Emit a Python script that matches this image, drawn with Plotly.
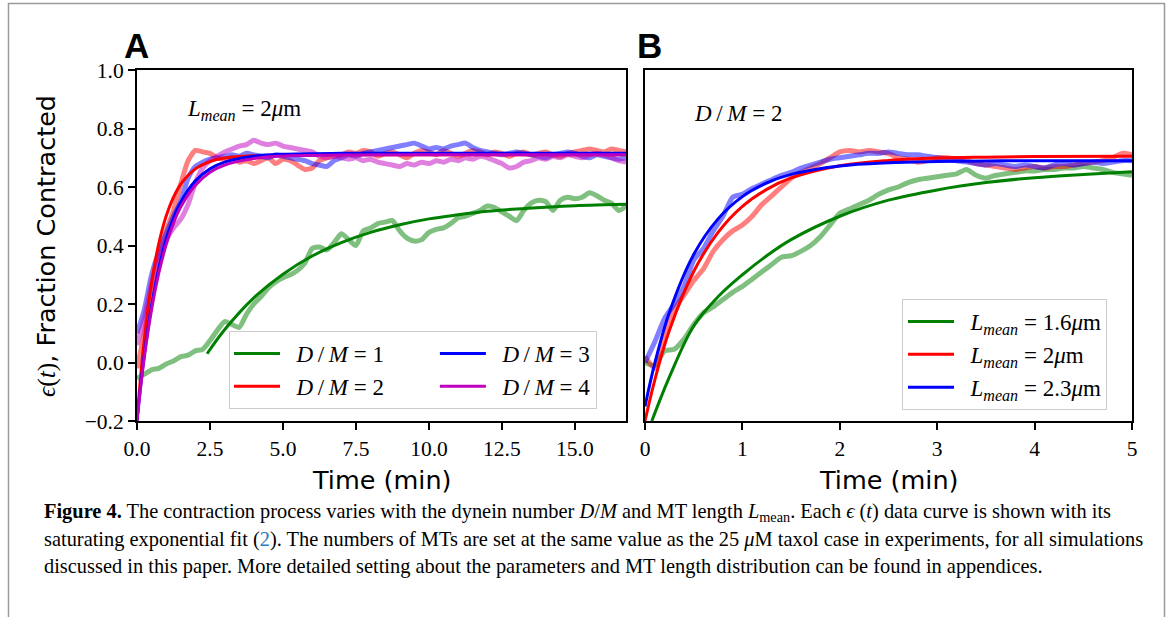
import plotly.graph_objects as go

# ---------------- data ----------------
t_a = [0, 0.25, 0.5, 0.75, 1, 1.25, 1.5, 1.75, 2, 2.25, 2.5, 2.75, 3, 3.25, 3.5, 3.75,
       4, 4.25, 4.5, 4.75, 5, 5.25, 5.5, 5.75, 6, 6.25, 6.5, 6.75, 7, 7.25, 7.5, 7.75,
       8, 8.25, 8.5, 8.75, 9, 9.25, 9.5, 9.75, 10, 10.25, 10.5, 10.75, 11, 11.25, 11.5, 11.75,
       12, 12.25, 12.5, 12.75, 13, 13.25, 13.5, 13.75, 14, 14.25, 14.5, 14.75, 15, 15.25, 15.5, 15.75,
       16, 16.25, 16.5, 16.75]

dm1_data = [-0.055, -0.04, -0.025, -0.02, -0.005, 0.005, 0.02, 0.025, 0.04, 0.045, 0.075, 0.11,
            0.14, 0.13, 0.12, 0.165, 0.20, 0.225, 0.255, 0.275, 0.29, 0.30, 0.315, 0.34,
            0.39, 0.395, 0.385, 0.41, 0.44, 0.42, 0.40, 0.45, 0.46, 0.475, 0.48, 0.485,
            0.45, 0.425, 0.415, 0.42, 0.445, 0.455, 0.46, 0.475, 0.495, 0.50, 0.51, 0.52,
            0.535, 0.53, 0.515, 0.50, 0.485, 0.52, 0.545, 0.555, 0.55, 0.52, 0.555, 0.565,
            0.56, 0.565, 0.58, 0.57, 0.555, 0.545, 0.52, 0.535]
dm2_data = [-0.02, 0.10, 0.25, 0.36, 0.45, 0.52, 0.61, 0.69, 0.725, 0.72, 0.715, 0.70,
            0.695, 0.70, 0.685, 0.69, 0.68, 0.69, 0.70, 0.68, 0.695, 0.69, 0.675, 0.66,
            0.665, 0.69, 0.70, 0.705, 0.71, 0.72, 0.715, 0.725, 0.72, 0.705, 0.715, 0.72,
            0.71, 0.70, 0.715, 0.725, 0.72, 0.71, 0.725, 0.715, 0.705, 0.715, 0.725, 0.72,
            0.71, 0.72, 0.715, 0.705, 0.715, 0.72, 0.71, 0.715, 0.72, 0.71, 0.705, 0.715,
            0.72, 0.725, 0.73, 0.725, 0.72, 0.73, 0.725, 0.72]
dm3_data = [0.10, 0.18, 0.30, 0.38, 0.44, 0.50, 0.55, 0.63, 0.67, 0.685, 0.695, 0.70,
            0.705, 0.71, 0.705, 0.715, 0.71, 0.705, 0.70, 0.71, 0.705, 0.70, 0.695, 0.69,
            0.68, 0.675, 0.67, 0.69, 0.70, 0.71, 0.705, 0.715, 0.72, 0.725, 0.73, 0.735,
            0.74, 0.745, 0.75, 0.74, 0.73, 0.735, 0.73, 0.74, 0.745, 0.75, 0.735, 0.725,
            0.72, 0.715, 0.71, 0.715, 0.72, 0.715, 0.71, 0.705, 0.70, 0.71, 0.715, 0.72,
            0.715, 0.705, 0.70, 0.71, 0.705, 0.70, 0.695, 0.70]
dm4_data = [0.06, 0.15, 0.27, 0.36, 0.42, 0.46, 0.49, 0.54, 0.615, 0.665, 0.69, 0.705,
            0.72, 0.73, 0.74, 0.745, 0.76, 0.75, 0.745, 0.75, 0.74, 0.735, 0.73, 0.725,
            0.72, 0.705, 0.70, 0.705, 0.70, 0.695, 0.70, 0.69, 0.695, 0.685, 0.68, 0.675,
            0.67, 0.68, 0.675, 0.685, 0.68, 0.69, 0.685, 0.695, 0.69, 0.70, 0.695, 0.705,
            0.70, 0.69, 0.68, 0.665, 0.67, 0.685, 0.69, 0.70, 0.695, 0.705, 0.70, 0.71,
            0.705, 0.70, 0.71, 0.715, 0.71, 0.70, 0.69, 0.685]

t_fit_a = [0, 0.1, 0.25, 0.5, 0.75, 1.0, 1.25, 1.5, 2.0, 2.5, 3.0, 4.0, 5.0, 7.0, 10.0, 16.75]
dm2_fit = [-0.2, -0.076, 0.080, 0.273, 0.408, 0.501, 0.565, 0.610, 0.662, 0.687, 0.699, 0.707, 0.709, 0.71, 0.71, 0.71]
dm3_fit = [-0.2, -0.102, 0.026, 0.196, 0.324, 0.421, 0.494, 0.549, 0.621, 0.662, 0.685, 0.705, 0.712, 0.715, 0.715, 0.715]
dm4_fit = [-0.2, -0.106, 0.017, 0.181, 0.307, 0.403, 0.476, 0.532, 0.606, 0.65, 0.675, 0.697, 0.706, 0.709, 0.71, 0.71]
t_fit_dm1 = [2.4, 3, 4, 5, 6, 7, 8, 9, 10, 11, 12, 13, 14, 15, 16, 16.75]
dm1_fit = [0.03, 0.112, 0.221, 0.302, 0.364, 0.410, 0.445, 0.471, 0.491, 0.505, 0.517, 0.525, 0.531, 0.536, 0.539, 0.541]

t_b = [0, 0.1, 0.2, 0.3, 0.4, 0.5, 0.6, 0.7, 0.8, 0.9,
       1.0, 1.1, 1.2, 1.3, 1.4, 1.5, 1.6, 1.7, 1.8, 1.9,
       2.0, 2.1, 2.2, 2.3, 2.4, 2.5, 2.6, 2.7, 2.8, 2.9,
       3.0, 3.1, 3.2, 3.3, 3.4, 3.5, 3.6, 3.7, 3.8, 3.9,
       4.0, 4.1, 4.2, 4.3, 4.4, 4.5, 4.6, 4.7, 4.8, 4.9, 5.0]
l16_data = [0.0, -0.01, 0.04, 0.045, 0.08, 0.13, 0.17, 0.19, 0.215, 0.24,
            0.26, 0.285, 0.31, 0.335, 0.36, 0.365, 0.38, 0.40, 0.43, 0.47,
            0.51, 0.525, 0.54, 0.555, 0.575, 0.59, 0.60, 0.615, 0.625, 0.63,
            0.635, 0.64, 0.645, 0.66, 0.64, 0.63, 0.64, 0.645, 0.65, 0.655,
            0.655, 0.66, 0.66, 0.665, 0.665, 0.67, 0.665, 0.66, 0.65, 0.645, 0.64]
l20_data = [0.02, -0.02, 0.10, 0.18, 0.23, 0.28, 0.32, 0.38, 0.42, 0.45,
            0.47, 0.50, 0.54, 0.57, 0.60, 0.63, 0.65, 0.665, 0.68, 0.70,
            0.72, 0.725, 0.72, 0.725, 0.72, 0.715, 0.70, 0.695, 0.685, 0.69,
            0.70, 0.70, 0.695, 0.69, 0.68, 0.675, 0.67, 0.665, 0.66, 0.665,
            0.67, 0.665, 0.67, 0.67, 0.675, 0.68, 0.685, 0.69, 0.70, 0.715, 0.71]
l23_data = [0.0, 0.07, 0.15, 0.20, 0.26, 0.35, 0.39, 0.45, 0.50, 0.565,
            0.575, 0.595, 0.61, 0.625, 0.64, 0.65, 0.665, 0.675, 0.685, 0.695,
            0.70, 0.705, 0.71, 0.715, 0.715, 0.72, 0.715, 0.71, 0.71, 0.705,
            0.70, 0.695, 0.69, 0.685, 0.68, 0.675, 0.68, 0.675, 0.67, 0.675,
            0.67, 0.665, 0.675, 0.68, 0.675, 0.68, 0.685, 0.68, 0.685, 0.69, 0.69]

t_fit_b = [0, 0.1, 0.25, 0.5, 0.75, 1.0, 1.25, 1.5, 2.0, 2.5, 3.0, 3.5, 4.0, 5.0]
l20_fit = [-0.2, -0.061, 0.109, 0.311, 0.445, 0.534, 0.592, 0.631, 0.673, 0.691, 0.699, 0.702, 0.704, 0.705]
l23_fit = [-0.15, -0.003, 0.171, 0.369, 0.491, 0.567, 0.614, 0.643, 0.672, 0.683, 0.687, 0.689, 0.69, 0.69]
t_fit_l16 = [0.07, 0.25, 0.5, 0.75, 1.0, 1.25, 1.5, 2.0, 2.5, 3.0, 3.5, 4.0, 4.5, 5.0]
l16_fit = [-0.2, -0.05, 0.125, 0.225, 0.30, 0.365, 0.42, 0.50, 0.555, 0.59, 0.615, 0.632, 0.643, 0.652]

x_ticks_a = [0, 2.5, 5, 7.5, 10, 12.5, 15]
x_ticktext_a = ["0.0", "2.5", "5.0", "7.5", "10.0", "12.5", "15.0"]
y_ticks = [-0.2, 0.0, 0.2, 0.4, 0.6, 0.8, 1.0]
y_ticktext = ["\u22120.2", "0.0", "0.2", "0.4", "0.6", "0.8", "1.0"]
x_ticks_b = [0, 1, 2, 3, 4, 5]

# ---------------- styles ----------------
GREEN, RED, BLUE, MAG = "#008000", "#ff0000", "#0000ff", "#bf00bf"
def faded(c):
    r, g, b = int(c[1:3], 16), int(c[3:5], 16), int(c[5:7], 16)
    return f"rgba({r},{g},{b},0.5)"

W, H = 1168, 617
SERIF = "Liberation Serif"
SANS = "DejaVu Sans"
DATA_W, FIT_W = 5, 3

def px(x):
    return x / W
def py(y):
    return (H - y) / H

fig = go.Figure()

for y, c in [(dm1_data, GREEN), (dm2_data, RED), (dm3_data, BLUE), (dm4_data, MAG)]:
    fig.add_trace(go.Scatter(x=t_a, y=y, mode="lines",
                             line=dict(color=faded(c), width=DATA_W, shape="spline", smoothing=0.6),
                             showlegend=False, hoverinfo="skip", xaxis="x", yaxis="y"))
for y, c in [(l16_data, GREEN), (l20_data, RED), (l23_data, BLUE)]:
    fig.add_trace(go.Scatter(x=t_b, y=y, mode="lines",
                             line=dict(color=faded(c), width=DATA_W, shape="spline", smoothing=0.6),
                             showlegend=False, hoverinfo="skip", xaxis="x2", yaxis="y2"))

TS = "\u2009"
LEAD = "\u2002"
TRAIL = "\u2003\u2003"
lbl = LEAD + "<i>D</i>" + TS + "/" + TS + "<i>M</i> = {}"
fig.add_trace(go.Scatter(x=t_fit_dm1, y=dm1_fit, mode="lines", line=dict(color=GREEN, width=FIT_W, shape="spline"),
                         name=lbl.format(1) + TRAIL, legend="legend", legendgroup="c1", xaxis="x", yaxis="y"))
fig.add_trace(go.Scatter(x=t_fit_a, y=dm2_fit, mode="lines", line=dict(color=RED, width=FIT_W, shape="spline"),
                         name=lbl.format(2) + TRAIL, legend="legend", legendgroup="c1", xaxis="x", yaxis="y"))
fig.add_trace(go.Scatter(x=t_fit_a, y=dm3_fit, mode="lines", line=dict(color=BLUE, width=FIT_W, shape="spline"),
                         name=lbl.format(3), legend="legend", legendgroup="c2", xaxis="x", yaxis="y"))
fig.add_trace(go.Scatter(x=t_fit_a, y=dm4_fit, mode="lines", line=dict(color=MAG, width=FIT_W, shape="spline"),
                         name=lbl.format(4), legend="legend", legendgroup="c2", xaxis="x", yaxis="y"))

lb = LEAD + "<i>L</i><sub><i>mean</i></sub> = {}<i>\u03bc</i>m"
fig.add_trace(go.Scatter(x=t_fit_l16, y=l16_fit, mode="lines", line=dict(color=GREEN, width=FIT_W, shape="spline"),
                         name=lb.format("1.6"), legend="legend2", xaxis="x2", yaxis="y2"))
fig.add_trace(go.Scatter(x=t_fit_b, y=l20_fit, mode="lines", line=dict(color=RED, width=FIT_W, shape="spline"),
                         name=lb.format("2"), legend="legend2", xaxis="x2", yaxis="y2"))
fig.add_trace(go.Scatter(x=t_fit_b, y=l23_fit, mode="lines", line=dict(color=BLUE, width=FIT_W, shape="spline"),
                         name=lb.format("2.3"), legend="legend2", xaxis="x2", yaxis="y2"))

axis_common = dict(showgrid=False, zeroline=False, showline=True, linecolor="black", linewidth=2,
                   mirror=True, ticklen=7, tickwidth=1.5, tickcolor="black", automargin=False,
                   tickfont=dict(family=SERIF, size=21.5, color="black"))

yd = [py(421), py(70)]
LEG_FONT = dict(family=SERIF, size=23, color="black")
fig.update_layout(
    width=W, height=H, margin=dict(l=0, r=0, t=0, b=0, pad=0, autoexpand=False),
    paper_bgcolor="white", plot_bgcolor="white",
    xaxis=dict(domain=[px(137), px(626)], range=[0, 16.75], tickvals=x_ticks_a, ticktext=x_ticktext_a,
               anchor="y", ticks="outside", **axis_common),
    yaxis=dict(domain=yd, range=[-0.2, 1.0], tickvals=y_ticks, ticktext=y_ticktext, anchor="x",
               ticks="outside", **axis_common),
    xaxis2=dict(domain=[px(645), px(1132)], range=[0, 5], tickvals=x_ticks_b, anchor="y2",
                ticks="outside", **axis_common),
    yaxis2=dict(domain=yd, range=[-0.2, 1.0], anchor="x2", showticklabels=False, ticks="", **axis_common),
    legend=dict(orientation="h", x=px(597), y=py(409), xanchor="right", yanchor="bottom",
                bgcolor="rgba(255,255,255,0.8)", bordercolor="#cccccc", borderwidth=1,
                font=LEG_FONT, tracegroupgap=0, itemwidth=46),
    legend2=dict(orientation="v", x=px(1107), y=py(410), xanchor="right", yanchor="bottom",
                 bgcolor="rgba(255,255,255,0.8)", bordercolor="#cccccc", borderwidth=1,
                 font=LEG_FONT, itemwidth=46),
    showlegend=True,
)

TITLE_FONT = dict(family=SANS, size=25.5, color="black")
annots = [
    dict(x=px(136.5), y=py(45), text="<b>A</b>", font=dict(family="Liberation Sans", size=35, color="black")),
    dict(x=px(649.5), y=py(45), text="<b>B</b>", font=dict(family="Liberation Sans", size=35, color="black")),
    dict(x=px(185), y=py(110), xanchor="left", text="<i>L</i><sub><i>mean</i></sub> = 2<i>\u03bc</i>m",
         font=LEG_FONT),
    dict(x=px(692), y=py(114), xanchor="left", text="<i>D</i>" + TS + "/" + TS + "<i>M</i> = 2",
         font=LEG_FONT),
    dict(x=px(381.5), y=py(480), text="Time (min)", font=TITLE_FONT),
    dict(x=px(888.5), y=py(480), text="Time (min)", font=TITLE_FONT),
    dict(x=px(46), y=py(246), textangle=-90,
         text="<span style='font-family:Liberation Serif'><i>\u03f5</i>(<i>t</i>)</span>, Fraction Contracted",
         font=TITLE_FONT),
]
cap_font = dict(family=SERIF, size=20.4, color="black")
captions = [
    "<b>Figure 4.</b> The contraction process varies with the dynein number <i>D</i>/<i>M</i> and MT length "
    "<i>L</i><sub>mean</sub>. Each <i>\u03f5</i> (<i>t</i>) data curve is shown with its",
    "saturating exponential fit (<span style='color:#2b7bb9'>2</span>). The numbers of MTs are set at the same value "
    "as the 25 <i>\u03bc</i>M taxol case in experiments, for all simulations",
    "discussed in this paper. More detailed setting about the parameters and MT length distribution can be found in appendices.",
]
for i, ctext in enumerate(captions):
    annots.append(dict(x=px(42), y=py(512 + 27 * i), xanchor="left", text=ctext, font=cap_font))
for a in annots:
    a.setdefault("xref", "paper")
    a.setdefault("yref", "paper")
    a.setdefault("showarrow", False)
    a.setdefault("yanchor", "middle")
    a.setdefault("xanchor", "center")
fig.update_layout(annotations=annots)

fig.add_shape(type="rect", xref="paper", yref="paper", x0=px(8.5), x1=px(1164.5), y0=-0.1, y1=py(3.5),
              line=dict(color="#9a9a9a", width=1.5), fillcolor="rgba(0,0,0,0)", layer="below")

fig.write_html("out.html", config={"displayModeBar": False},
               post_script="document.body.style.margin='0px';")
